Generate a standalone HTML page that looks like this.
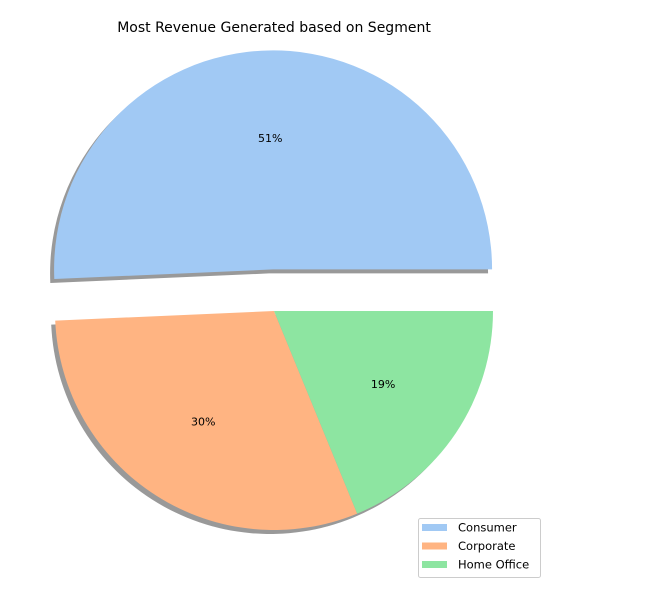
<!DOCTYPE html>
<html><head><meta charset="utf-8"><style>
body{margin:0;background:#fff;}
svg{display:block;font-family:"DejaVu Sans","Liberation Sans",sans-serif;}
</style></head><body>
<svg id="c" width="650" height="601" viewBox="0 0 650 601">
<text x="274" y="32" text-anchor="middle" font-size="14" fill="#000">Most Revenue Generated based on Segment</text>
<g id="shadows"></g><g id="slices"></g><g id="labels"></g>
<g>
<rect x="418.5" y="518.5" width="122" height="59" rx="2" fill="#fff" stroke="#ccc"/>
<g id="legend"></g>
</g>
</svg>
<script>
const categories=["Consumer","Corporate","Home Office"];
const values=[50.7,30.5,18.8];
const pctLabels=["51%","30%","19%"];
const explode=[0.19,0,0];
const colors=["#a1c9f4","#ffb482","#8de5a1"];
const cx=274,cy=311,R=219;
const total=values.reduce((a,b)=>a+b,0);
const ns="http://www.w3.org/2000/svg";
function pt(x,y,r,deg){const a=deg*Math.PI/180;return [x+r*Math.cos(a),y-r*Math.sin(a)];}
let start=0;
const sh=document.getElementById('shadows'),sl=document.getElementById('slices'),lb=document.getElementById('labels'),lg=document.getElementById('legend');
values.forEach((v,i)=>{
  const sweep=v/total*360,end=start+sweep,mid=start+sweep/2;
  const [ox,oy]=pt(cx,cy,explode[i]*R,mid);
  const [x1,y1]=pt(ox,oy,R,start),[x2,y2]=pt(ox,oy,R,end);
  const large=sweep>180?1:0;
  const d=`M${ox},${oy} L${x1},${y1} A${R},${R} 0 ${large} 0 ${x2},${y2} Z`;
  const s=document.createElementNS(ns,'path');
  s.setAttribute('d',d);s.setAttribute('fill','#000');s.setAttribute('opacity','0.4');
  s.setAttribute('transform','translate(-4,4)');
  
  
  sh.appendChild(s);
  const p=document.createElementNS(ns,'path');
  p.setAttribute('d',d);p.setAttribute('fill',colors[i]);
  
  
  sl.appendChild(p);
  const [tx,ty]=pt(ox,oy,0.6*R,mid);
  const t=document.createElementNS(ns,'text');
  t.setAttribute('x',tx);t.setAttribute('y',ty+4);t.setAttribute('text-anchor','middle');t.setAttribute('font-size','11');
  t.textContent=pctLabels[i];
  
  
  lb.appendChild(t);
  const r=document.createElementNS(ns,'rect');
  r.setAttribute('x',422);r.setAttribute('y',524+i*18.5);r.setAttribute('width',25);r.setAttribute('height',7);r.setAttribute('fill',colors[i]);
  
  
  lg.appendChild(r);
  const lt=document.createElementNS(ns,'text');
  lt.setAttribute('x',458);lt.setAttribute('y',531.5+i*18.5);lt.setAttribute('font-size','11.5');
  lt.textContent=categories[i];
  
  
  lg.appendChild(lt);
  start=end;
});
</script>
</body></html>
